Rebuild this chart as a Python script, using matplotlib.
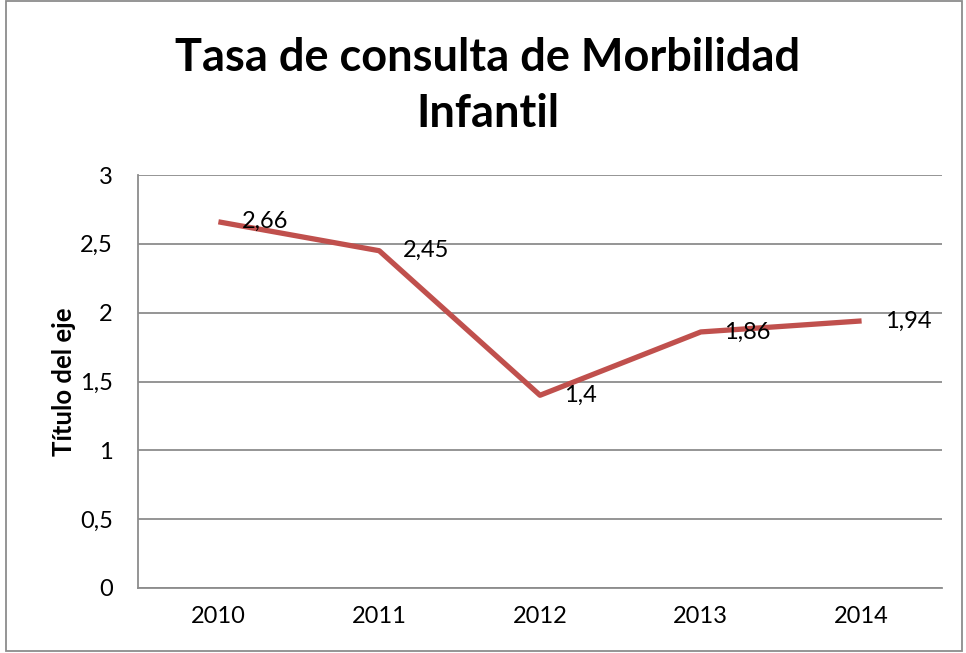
import matplotlib
matplotlib.use("Agg")
import matplotlib.pyplot as plt
from matplotlib.patches import Rectangle

plt.rcParams['font.family'] = ['Lato', 'DejaVu Sans']

# datos
years = ['2010', '2011', '2012', '2013', '2014']
tasa = [2.66, 2.45, 1.4, 1.86, 1.94]
y_ticks = [0, 0.5, 1, 1.5, 2, 2.5, 3]

line_color = '#C0504D'
grid_color = '#8C8C8C'

fig = plt.figure(figsize=(9.66, 6.53), dpi=100)
ax = fig.add_axes([138 / 966, 1 - 588 / 653, (942 - 138) / 966, (588 - 175) / 653])

x = list(range(len(years)))
ax.plot(x, tasa, color=line_color, linewidth=3.8, solid_capstyle='butt', zorder=3)

# etiquetas de datos a la derecha del punto
for xi, v in zip(x, tasa):
    lbl = ('%g' % v).replace('.', ',')
    ax.annotate(lbl, (xi, v), xytext=(17, 0), textcoords='offset points',
                ha='left', va='center', fontsize=17, color='black', zorder=4)

ax.set_xlim(-0.5, len(years) - 0.5)
ax.set_ylim(0, 3)
ax.set_xticks(x)
ax.set_xticklabels(years, fontsize=17)
ax.set_yticks(y_ticks)
ax.set_yticklabels([('%g' % t).replace('.', ',') for t in y_ticks], fontsize=17)
ax.tick_params(length=0, pad=18)
ax.tick_params(axis='x', pad=13)

ax.grid(axis='y', color=grid_color, linewidth=1.3)
ax.set_axisbelow(True)
for side in ['top', 'right']:
    ax.spines[side].set_visible(False)
for side in ['left', 'bottom']:
    ax.spines[side].set_color(grid_color)
    ax.spines[side].set_linewidth(1.3)

ax.set_ylabel('Título del eje', fontsize=18.5, fontweight='bold', labelpad=3)

fig.text(488 / 966, 1 - 86 / 653, 'Tasa de consulta de Morbilidad\nInfantil',
         ha='center', va='center', fontsize=32.5, fontweight='bold', linespacing=1.42)

# borde del gráfico
fig.patches.append(Rectangle((6 / 966, 2 / 653), 956 / 966, 650 / 653,
                             transform=fig.transFigure, fill=False,
                             edgecolor=grid_color, linewidth=1.3))

fig.savefig('out.png', dpi=100)
